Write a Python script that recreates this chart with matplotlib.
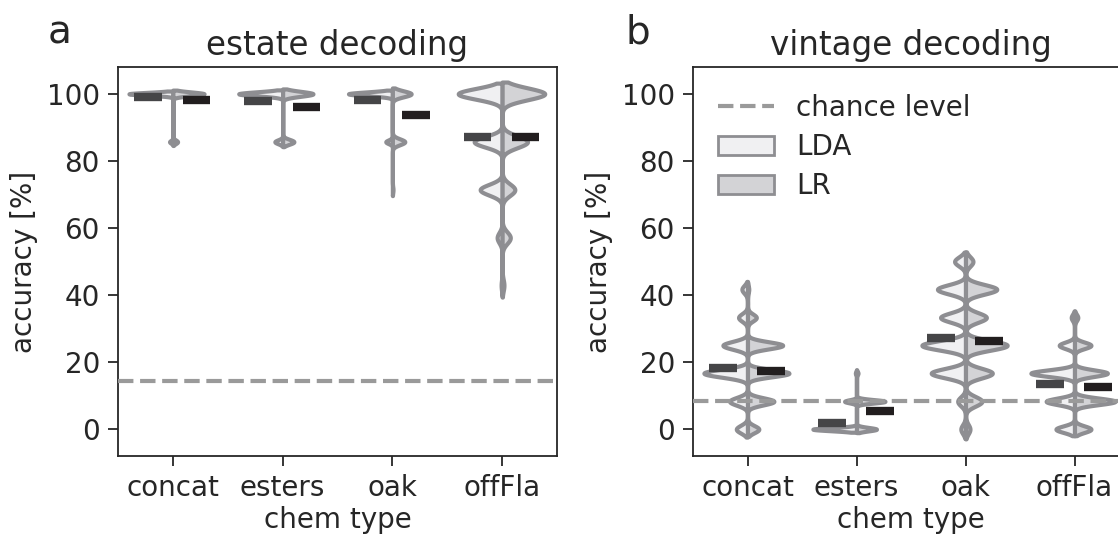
import numpy as np
import matplotlib
matplotlib.use('Agg')
import matplotlib.pyplot as plt
from matplotlib.lines import Line2D
from matplotlib.patches import Patch

# chem types on the x axis
chem_types = ['concat', 'esters', 'oak', 'offFla']

# estate decoding: possible accuracy values and how often each one occurs
estate_levels = [100, 85.7, 71.4, 57.1, 42.9]
estate_lda_counts = [[93, 7, 0, 0, 0],
                     [85, 15, 0, 0, 0],
                     [87, 13, 0, 0, 0],
                     [44, 28, 22, 5, 1]]
estate_lr_counts = [[87, 13, 0, 0, 0],
                    [73, 27, 0, 0, 0],
                    [59, 39, 2, 0, 0],
                    [47, 28, 14, 9, 2]]
estate_lda_mean = [99.0, 97.8, 98.1, 87.1]
estate_lr_mean = [98.2, 96.1, 93.8, 87.0]
estate_chance = 14.3

# vintage decoding
vintage_levels = [0, 8.3, 16.7, 25, 33.3, 41.7, 50]
vintage_lda_counts = [[10, 16, 39, 22, 8, 5, 0],
                      [77, 21, 2, 0, 0, 0, 0],
                      [3, 5, 22, 28, 16, 18, 7],
                      [17, 26, 40, 14, 3, 0, 0]]
vintage_lr_counts = [[9, 21, 33, 28, 7, 1, 0],
                     [40, 57, 3, 0, 0, 0, 0],
                     [3, 11, 18, 28, 14, 21, 5],
                     [15, 37, 30, 15, 3, 0, 0]]
vintage_lda_mean = [18.1, 1.8, 27.1, 13.4]
vintage_lr_mean = [17.2, 5.5, 26.4, 12.7]
vintage_chance = 8.3

BW = 0.115
CUT = 2
EDGE = '#8e8e92'
LDA_FILL = '#f0f0f2'
LR_FILL = '#d3d3d6'
LDA_BAR = '#454547'
LR_BAR = '#221e1f'
CHANCE = '#9a9a9a'
FS = 20

plt.rcParams['font.family'] = ['DejaVu Sans']
plt.rcParams['text.color'] = '.15'
plt.rcParams['axes.labelcolor'] = '.15'
plt.rcParams['xtick.color'] = '.15'
plt.rcParams['ytick.color'] = '.15'


def kde(levels, counts):
    v = np.array(levels, float)
    w = np.array(counts, float)
    w = w / w.sum()
    m = (w * v).sum()
    bw = BW * np.sqrt((w * (v - m) ** 2).sum())
    used = v[w > 0]
    y = np.linspace(used.min() - CUT * bw, used.max() + CUT * bw, 600)
    d = (w[:, None] * np.exp(-0.5 * ((y[None, :] - v[:, None]) / bw) ** 2)).sum(0)
    d = d / (bw * np.sqrt(2 * np.pi))
    return y, d


def draw_panel(ax, levels, lda_counts, lr_counts, lda_mean, lr_mean, chance, title):
    for i in range(len(chem_types)):
        y1, d1 = kde(levels, lda_counts[i])
        y2, d2 = kde(levels, lr_counts[i])
        s = 0.4 / max(d1.max(), d2.max())
        ax.fill_betweenx(y1, i - d1 * s, i, facecolor=LDA_FILL, edgecolor=EDGE,
                         linewidth=3, zorder=2)
        ax.fill_betweenx(y2, i, i + d2 * s, facecolor=LR_FILL, edgecolor=EDGE,
                         linewidth=3, zorder=2)
        ax.hlines(lda_mean[i], i - 0.35, i - 0.1, color=LDA_BAR, linewidth=6,
                  zorder=4)
        ax.hlines(lr_mean[i], i + 0.09, i + 0.34, color=LR_BAR, linewidth=6,
                  zorder=4)
    ax.axhline(chance, color=CHANCE, linestyle='--', linewidth=3, zorder=3)
    ax.set_xlim(-0.5, 3.5)
    ax.set_ylim(-8, 108)
    ax.set_xticks(range(len(chem_types)))
    ax.set_xticklabels(chem_types)
    ax.set_yticks([0, 20, 40, 60, 80, 100])
    ax.tick_params(labelsize=FS, length=7, width=1.3, pad=6)
    for sp in ax.spines.values():
        sp.set_linewidth(1.3)
        sp.set_color('.15')
    ax.set_xlabel('chem type', fontsize=FS, labelpad=3)
    ax.set_ylabel('accuracy [%]', fontsize=FS, labelpad=6)
    ax.set_title(title, fontsize=23.5, pad=9)


fig = plt.figure(figsize=(11.18, 5.36), dpi=100)
ax1 = fig.add_axes([118 / 1118, 80 / 536, 439 / 1118, 389 / 536])
ax2 = fig.add_axes([693 / 1118, 80 / 536, 436 / 1118, 389 / 536])

draw_panel(ax1, estate_levels, estate_lda_counts, estate_lr_counts,
           estate_lda_mean, estate_lr_mean, estate_chance, 'estate decoding')
draw_panel(ax2, vintage_levels, vintage_lda_counts, vintage_lr_counts,
           vintage_lda_mean, vintage_lr_mean, vintage_chance, 'vintage decoding')

handles = [Line2D([], [], color=CHANCE, linestyle='--', linewidth=3),
           Patch(facecolor=LDA_FILL, edgecolor=EDGE, linewidth=2),
           Patch(facecolor=LR_FILL, edgecolor=EDGE, linewidth=2)]
ax2.legend(handles, ['chance level', 'LDA', 'LR'], loc='upper left', frameon=False,
           fontsize=FS, labelspacing=0.4, bbox_to_anchor=(0.0, 0.995))

fig.text(48 / 1118, 1 - 44 / 536, 'a', fontsize=28, va='baseline')
fig.text(625 / 1118, 1 - 44 / 536, 'b', fontsize=28, va='baseline')

fig.savefig('out.png', dpi=100)
